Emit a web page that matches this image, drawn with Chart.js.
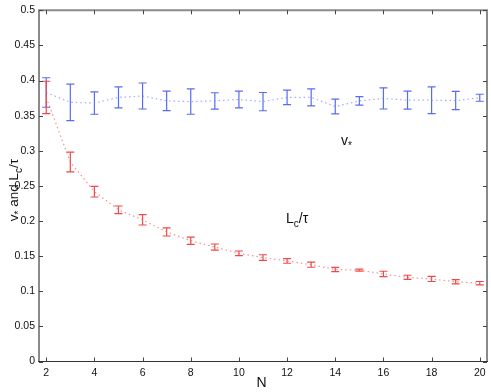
<!DOCTYPE html>
<html lang="en">
<head>
    <meta charset="UTF-8">
    <title>v* and Lc/tau vs N</title>
    <script src="https://cdn.jsdelivr.net/npm/chart.js"></script>
    <style>
        html, body { margin: 0; padding: 0; background: #fff; }
        .chart-container { width: 491px; height: 392px; }
    </style>
</head>
<body>
    <div class="chart-container">
        <canvas id="grafico"></canvas>
    </div>

    <script>
        // Dados
        var nValues = [2, 3, 4, 5, 6, 7, 8, 9, 10, 11, 12, 13, 14, 15, 16, 17, 18, 19, 20];
        var vStar = [0.383, 0.369, 0.368, 0.376, 0.378, 0.371, 0.370, 0.371, 0.373, 0.370,
                     0.376, 0.376, 0.363, 0.371, 0.3745, 0.372, 0.372, 0.3715, 0.3755];
        var vStarErr = [0.021, 0.026, 0.016, 0.015, 0.0185, 0.0138, 0.018, 0.0116, 0.012, 0.013,
                        0.0104, 0.012, 0.0104, 0.006, 0.015, 0.0128, 0.019, 0.013, 0.005];
        var lcTau = [0.376, 0.284, 0.2418, 0.216, 0.2017, 0.1844, 0.172, 0.163, 0.154, 0.148,
                     0.1432, 0.1378, 0.131, 0.130, 0.1247, 0.1198, 0.1175, 0.1136, 0.1115];
        var lcTauErr = [0.023, 0.014, 0.0076, 0.0054, 0.0074, 0.0057, 0.0052, 0.0043, 0.0033, 0.004,
                        0.0033, 0.0036, 0.003, 0.0014, 0.0038, 0.003, 0.0036, 0.003, 0.0024];
        var xTicks = [2, 4, 6, 8, 10, 12, 14, 16, 18, 20];

        var FONT = '"Liberation Sans", Arial, sans-serif';
        var blueBar = 'rgb(88, 108, 240)';
        var redBar = 'rgb(240, 72, 72)';

        function toPoints(values) {
            return nValues.map(function(n, i) { return { x: n, y: values[i] }; });
        }

        // Texto com subscritos: partes [texto, subscrito?]
        function partsWidth(ctx, parts, size, subSize) {
            var w = 0;
            parts.forEach(function(p) {
                ctx.font = (p[1] ? subSize : size) + 'px ' + FONT;
                w += ctx.measureText(p[0]).width;
            });
            return w;
        }
        function drawParts(ctx, parts, x, y, size, subSize) {
            parts.forEach(function(p) {
                ctx.font = (p[1] ? subSize : size) + 'px ' + FONT;
                ctx.fillText(p[0], x, p[1] ? y + size * 0.3 : y);
                x += ctx.measureText(p[0]).width;
            });
        }

        // Plugin: barras de erro, moldura, ticks internos e rótulos
        var extras = {
            id: 'extras',
            beforeDatasetsDraw: function(chart) {
                var ctx = chart.ctx;
                var xs = chart.scales.x, ys = chart.scales.y;
                var sets = [[vStar, vStarErr, blueBar], [lcTau, lcTauErr, redBar]];
                ctx.save();
                ctx.lineWidth = 1.2;
                sets.forEach(function(s) {
                    ctx.strokeStyle = s[2];
                    nValues.forEach(function(n, i) {
                        var px = xs.getPixelForValue(n);
                        var top = ys.getPixelForValue(s[0][i] + s[1][i]);
                        var bot = ys.getPixelForValue(s[0][i] - s[1][i]);
                        ctx.beginPath();
                        ctx.moveTo(px, top); ctx.lineTo(px, bot);
                        ctx.moveTo(px - 4, top); ctx.lineTo(px + 4, top);
                        ctx.moveTo(px - 4, bot); ctx.lineTo(px + 4, bot);
                        ctx.stroke();
                    });
                });
                ctx.restore();
            },
            afterDraw: function(chart) {
                var ctx = chart.ctx;
                var a = chart.chartArea;
                var xs = chart.scales.x, ys = chart.scales.y;
                ctx.save();
                // moldura
                ctx.strokeStyle = '#8a8a8a';
                ctx.lineWidth = 2;
                ctx.beginPath();
                ctx.moveTo(a.left, a.bottom); ctx.lineTo(a.left, a.top);
                ctx.lineTo(a.right, a.top); ctx.lineTo(a.right, a.bottom);
                ctx.stroke();
                ctx.strokeStyle = '#333';
                ctx.lineWidth = 1.2;
                ctx.beginPath();
                ctx.moveTo(a.left - 1, a.bottom); ctx.lineTo(a.right + 1, a.bottom);
                ctx.stroke();
                // ticks internos
                ctx.strokeStyle = '#444';
                ctx.lineWidth = 1;
                ctx.beginPath();
                xs.ticks.forEach(function(t) {
                    var px = Math.round(xs.getPixelForValue(t.value)) + 0.5;
                    ctx.moveTo(px, a.bottom); ctx.lineTo(px, a.bottom - 4);
                    ctx.moveTo(px, a.top); ctx.lineTo(px, a.top + 4);
                });
                ys.ticks.forEach(function(t) {
                    var py = Math.round(ys.getPixelForValue(t.value)) + 0.5;
                    ctx.moveTo(a.left, py); ctx.lineTo(a.left + 4, py);
                    ctx.moveTo(a.right, py); ctx.lineTo(a.right - 4, py);
                });
                ctx.stroke();

                ctx.fillStyle = '#111';
                ctx.textBaseline = 'alphabetic';
                // título do eixo x
                ctx.font = '14px ' + FONT;
                ctx.textAlign = 'center';
                ctx.fillText('N', 261.5, 387);
                ctx.textAlign = 'left';
                // título do eixo y (rotacionado)
                var yParts = [['v', false], ['*', true], [' and L', false], ['c', true], ['/\u03c4', false]];
                var w = partsWidth(ctx, yParts, 13.5, 10);
                ctx.save();
                ctx.translate(17.5, 190);
                ctx.rotate(-Math.PI / 2);
                drawParts(ctx, yParts, -w / 2, 0, 13.5, 10);
                ctx.restore();
                // rótulos das séries
                drawParts(ctx, [['v', false], ['*', true]], 341, 145, 14, 10);
                drawParts(ctx, [['L', false], ['c', true], ['/\u03c4', false]], 286, 223, 14, 10);
                ctx.restore();
            }
        };

        var ctx = document.getElementById('grafico').getContext('2d');
        var grafico = new Chart(ctx, {
            type: 'line',
            data: {
                datasets: [{
                    label: 'v*',
                    data: toPoints(vStar),
                    borderColor: 'rgba(120, 140, 250, 0.7)',
                    borderWidth: 1.2,
                    borderDash: [1.5, 3],
                    pointRadius: 0,
                    fill: false
                }, {
                    label: 'Lc/tau',
                    data: toPoints(lcTau),
                    borderColor: 'rgba(245, 110, 110, 0.75)',
                    borderWidth: 1.2,
                    borderDash: [1.5, 3],
                    pointRadius: 0,
                    fill: false
                }]
            },
            options: {
                responsive: true,
                maintainAspectRatio: false,
                animation: false,
                layout: { padding: { left: 0, right: 4, top: 9, bottom: 0 } },
                scales: {
                    x: {
                        type: 'linear',
                        min: 1.7,
                        max: 20.3,
                        afterBuildTicks: function(scale) {
                            scale.ticks = xTicks.map(function(v) { return { value: v }; });
                        },
                        afterFit: function(scale) { scale.height = 30.5; },
                        grid: { display: false, drawTicks: false },
                        border: { display: false },
                        ticks: {
                            padding: 5,
                            color: '#111',
                            font: { family: FONT, size: 10.5 },
                            maxRotation: 0
                        }
                    },
                    y: {
                        type: 'linear',
                        min: 0,
                        max: 0.5,
                        afterFit: function(scale) { scale.width = 39; },
                        grid: { display: false, drawTicks: false },
                        border: { display: false },
                        ticks: {
                            stepSize: 0.05,
                            padding: 4,
                            color: '#111',
                            font: { family: FONT, size: 10.5 },
                            callback: function(v) { return parseFloat(v.toFixed(2)).toString(); }
                        }
                    }
                },
                plugins: {
                    legend: { display: false },
                    tooltip: { enabled: false }
                }
            },
            plugins: [extras]
        });
    </script>
</body>
</html>
